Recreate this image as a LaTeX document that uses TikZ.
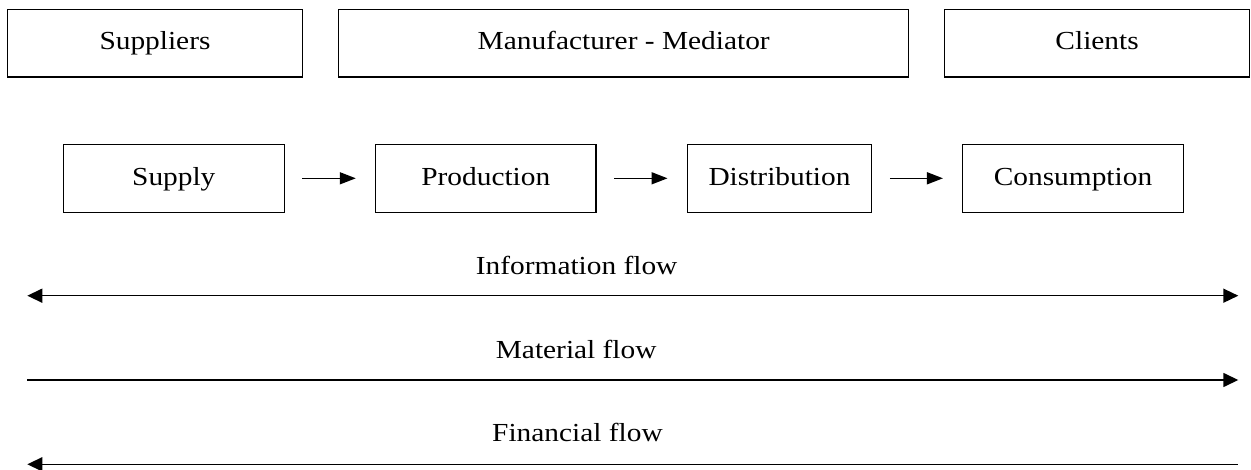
\documentclass[tikz,border=0pt]{standalone}
\usepackage{fontspec}
\setmainfont{Liberation Serif}[FakeStretch=1.13]
\usetikzlibrary{arrows.meta}
\begin{document}
\begin{tikzpicture}[x=1pt,y=-1pt,
  every node/.style={font=\fontsize{26}{30}\selectfont, inner sep=0pt},
  topbox/.style={draw, line width=1.5pt, minimum height=67.3pt, text height=19.4pt, text depth=6pt},
  stagebox/.style={draw, line width=1.5pt, minimum height=68pt, text height=21.4pt, text depth=6pt},
  steparrow/.style={line width=1.5pt, -{Triangle[length=16pt,width=12pt]}, shorten <=17.3pt, shorten >=19pt},
  flowline/.style={line width=1.5pt},
  flowtip/.tip={Triangle[length=15pt,width=14pt]},
  flowlabel/.style={anchor=base}
]
\useasboundingbox (0,0) rectangle (1251,470);
% top row
\node[topbox, minimum width=295.4pt] (sup) at (155,43.3) {Suppliers};
\node[topbox, minimum width=570pt] (man) at (623.7,43.3) {Manufacturer - Mediator};
\node[topbox, minimum width=304.8pt] (cli) at (1097.1,43.3) {Clients};
% stages
\node[stagebox, minimum width=221pt] (supply) at (173.8,178.3) {Supply};
\node[stagebox, minimum width=220.5pt] (prod) at (485.8,178.3) {Production};
\node[stagebox, minimum width=184.4pt] (dist) at (779.5,178.3) {Distribution};
\node[stagebox, minimum width=220.6pt] (cons) at (1073,178.3) {Consumption};
\draw[steparrow] (supply.east) -- (prod.west);
\draw[steparrow] (prod.east) -- (dist.west);
\draw[steparrow] (dist.east) -- (cons.west);
% flows
\coordinate (iL) at (27.3,295.7);
\coordinate (iR) at (1238.3,295.7);
\coordinate (mL) at (27.3,380);
\coordinate (mR) at (1238.3,380);
\coordinate (fL) at (27.3,464.3);
\coordinate (fR) at (1238.3,464.3);
\node[flowlabel] (il) at (576.7,274.3) {Information flow};
\node[flowlabel] (ml) at (576.2,358.3) {Material flow};
\node[flowlabel] (fl) at (577.5,441.7) {Financial flow};
\draw[flowline, flowtip-flowtip] (iL) -- (iR);
\draw[flowline, -flowtip] (mL) -- (mR);
\draw[flowline, flowtip-] (fL) -- (fR);
\end{tikzpicture}
\end{document}
